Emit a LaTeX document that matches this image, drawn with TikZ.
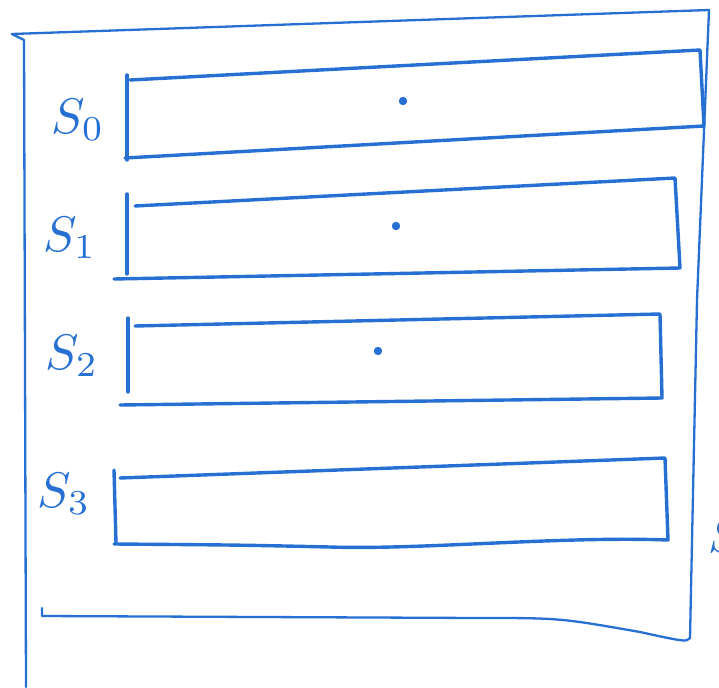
\documentclass[tikz,border=0pt]{standalone}
\usepackage{amsmath,amssymb}
\usepackage{graphicx}
\usepackage{tikz}
\definecolor{ink}{RGB}{38,112,212}
\newcommand{\biglab}[1]{\scalebox{5}{$#1$}}

\begin{document}
\begin{tikzpicture}[x=1pt,y=-1pt,
  pen/.style={draw=ink,line width=3.4pt,line join=round,line cap=round},
  lab/.style={text=ink,inner sep=1pt}]
\useasboundingbox (0,0) rectangle (719,687);
\clip (0,0) rectangle (719,687);
% outer frame
\coordinate (tl) at (12,34);
\coordinate (tr) at (709,10);
\coordinate (br) at (690,638);
\draw[pen,line width=2.3pt] (tl)--(tr)--(697,300)--(br)
  .. controls (686,642) .. (640,632) .. controls (560,618) .. (480,618)--(42,616)--(42,608);
\draw[pen,line width=2.3pt] (tl)--(24,40)--(26,687);
% S0
\draw[pen] (127,75)--(127,160);
\draw[pen] (130,80)--(700,50)--(704,126)--(125,158);
% S1
\draw[pen] (127,194)--(127,274);
\draw[pen] (135,206)--(675,178)--(680,268)--(114,279);
% S2
\draw[pen] (128,318)--(128,392);
\draw[pen] (135,326)--(660,314)--(662,398)--(120,405);
% S3
\draw[pen] (114,470)--(116,543);
\draw[pen] (120,478)--(665,458)--(668,540)
  .. controls (560,536) and (420,550) .. (330,547) .. controls (240,545) .. (114,544);
% dots
\foreach \p in {(403,101),(396,226),(378,351)}
  {\fill[ink] \p circle (4.2pt);}
\node[lab] (s0) at (78,120) {\biglab{S_0}};
\node[lab] (s1) at (70,238) {\biglab{S_1}};
\node[lab] (s2) at (72,356) {\biglab{S_2}};
\node[lab] (s3) at (64,494) {\biglab{S_3}};
\node[lab,anchor=west] (s4) at (707,535) {\biglab{S}};
\end{tikzpicture}
\end{document}
